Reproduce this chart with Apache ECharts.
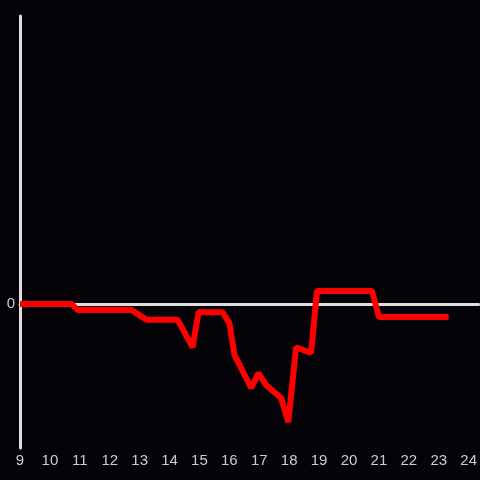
<!DOCTYPE html>
<html>
<head>
<meta charset="utf-8">
<script src="https://cdn.jsdelivr.net/npm/echarts@6/dist/echarts.min.js"></script>
<style>
html,body{margin:0;padding:0;background:#050307;}
#chart{width:480px;height:480px;}
</style>
</head>
<body>
<div id="chart"></div>
<script>
const hours = [9.0, 10.73, 10.93, 12.73, 13.23, 14.27, 14.77, 14.97, 15.77, 16.0, 16.17, 16.73, 16.97, 17.23, 17.73, 17.97, 18.23, 18.73, 18.93, 20.77, 21.0, 23.33];
const values = [0, 0, -0.125, -0.125, -0.33, -0.33, -0.9, -0.17, -0.17, -0.4, -1.06, -1.75, -1.44, -1.69, -1.96, -2.46, -0.9, -1.02, 0.27, 0.27, -0.27, -0.27];
const xTickLabels = ['9','10','11','12','13','14','15','16','17','18','19','20','21','22','23','24'];

const chart = echarts.init(document.getElementById('chart'));
chart.setOption({
  backgroundColor: '#050307',
  animation: false,
  grid: {left: 20, right: 0, top: 16, bottom: 32, containLabel: false},
  xAxis: {
    type: 'value',
    min: 9,
    max: 9 + 460 / 30,
    interval: 1,
    splitLine: {show: false},
    axisTick: {show: false},
    axisLine: {show: true, onZero: true, lineStyle: {color: '#dedede', width: 3}},
    axisLabel: {
      color: '#cccccc', fontSize: 15, fontFamily: 'Liberation Sans, Arial, sans-serif',
      showMaxLabel: false, margin: 5,
      formatter: v => { const i = Math.round(v - 9); return (Math.abs(v - Math.round(v)) < 1e-6 && xTickLabels[i]) ? xTickLabels[i] : ''; }
    }
  },
  yAxis: {
    type: 'value',
    min: -3,
    max: 6,
    interval: 3,
    splitLine: {show: false},
    axisTick: {show: false},
    axisLine: {show: true, lineStyle: {color: '#dedede', width: 3}},
    axisLabel: {
      color: '#cccccc', fontSize: 15, fontFamily: 'Liberation Sans, Arial, sans-serif', margin: 5,
      formatter: v => v === 0 ? '0' : ''
    }
  },
  series: [{
    type: 'line',
    data: hours.map((h, i) => [h, values[i]]),
    showSymbol: false,
    lineStyle: {color: '#ff0000', width: 6, join: 'bevel'},
    itemStyle: {color: '#ff0000'}
  }]
});
</script>
</body>
</html>
